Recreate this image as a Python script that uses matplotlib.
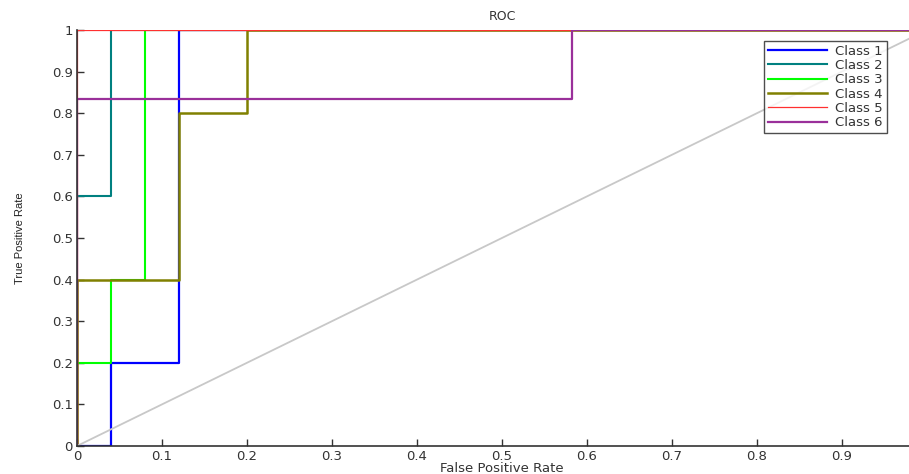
import numpy as np
import matplotlib.pyplot as plt

# ROC curves for six classes (step curves)
fpr_1 = [0, 0.04, 0.04, 0.12, 0.12, 1]
tpr_1 = [0, 0, 0.2, 0.2, 1, 1]
fpr_2 = [0, 0, 0.04, 0.04, 1]
tpr_2 = [0, 0.6, 0.6, 1, 1]
fpr_3 = [0, 0, 0.04, 0.04, 0.08, 0.08, 1]
tpr_3 = [0, 0.2, 0.2, 0.4, 0.4, 1, 1]
fpr_4 = [0, 0, 0.12, 0.12, 0.2, 0.2, 1]
tpr_4 = [0, 0.4, 0.4, 0.8, 0.8, 1, 1]
fpr_5 = [0, 0, 1]
tpr_5 = [0, 1, 1]
fpr_6 = [0, 0, 0.583, 0.583, 1]
tpr_6 = [0, 0.833, 0.833, 1, 1]
chance = [0, 1]

labels = ['Class 1', 'Class 2', 'Class 3', 'Class 4', 'Class 5', 'Class 6']
colors = ['#0000ff', '#008080', '#00ff00', '#808000', '#ff3030', '#9a309a']
widths = [1.6, 1.5, 1.5, 1.8, 0.9, 1.6]
tick_text = ['0', '0.1', '0.2', '0.3', '0.4', '0.5', '0.6', '0.7', '0.8', '0.9', '1']

fig = plt.figure(figsize=(9.09, 4.74), dpi=100)
ax = fig.add_axes([0.0847, 0.0591, 0.935, 0.8776])

curves = [(fpr_1, tpr_1), (fpr_2, tpr_2), (fpr_3, tpr_3),
          (fpr_4, tpr_4), (fpr_5, tpr_5), (fpr_6, tpr_6)]
handles = []
for (x, y), lab, c, w in zip(curves, labels, colors, widths):
    h, = ax.plot(x, y, color=c, lw=w, label=lab, zorder=2)
    handles.append(h)
ax.plot(chance, chance, color='#c8c8c8', lw=1.3, zorder=3)

ax.set_xlim(0, 1)
ax.set_ylim(0, 1)
ax.set_xticks(np.arange(0, 1.01, 0.1))
ax.set_yticks(np.arange(0, 1.01, 0.1))
ax.set_xticklabels(tick_text)
ax.set_yticklabels(tick_text)
ax.tick_params(direction='in', length=5, width=1, colors='#333333', labelsize=9.5, pad=3)
ax.spines['top'].set_visible(False)
ax.spines['right'].set_visible(False)
for s in ['left', 'bottom']:
    ax.spines[s].set_color('#333333')
    ax.spines[s].set_linewidth(1.2)
    ax.spines[s].set_zorder(5)

ax.set_title('ROC', fontsize=9, color='#333333', pad=7)
ax.set_xlabel('False Positive Rate', fontsize=9.5, color='#333333', labelpad=-1)
ax.set_ylabel('True Positive Rate', fontsize=8, color='#222222', labelpad=19,
              family=['Liberation Sans', 'DejaVu Sans'])

leg = ax.legend(handles=handles, loc='upper left', bbox_to_anchor=(0.833, 0.928),
                bbox_transform=fig.transFigure, fontsize=9.5, frameon=True,
                fancybox=False, edgecolor='#222222', handlelength=4.5,
                labelspacing=0.1, borderpad=0.3, handletextpad=0.6)
leg.get_frame().set_linewidth(1)
for t in leg.get_texts():
    t.set_color('#333333')

fig.savefig('out.png', dpi=100)
